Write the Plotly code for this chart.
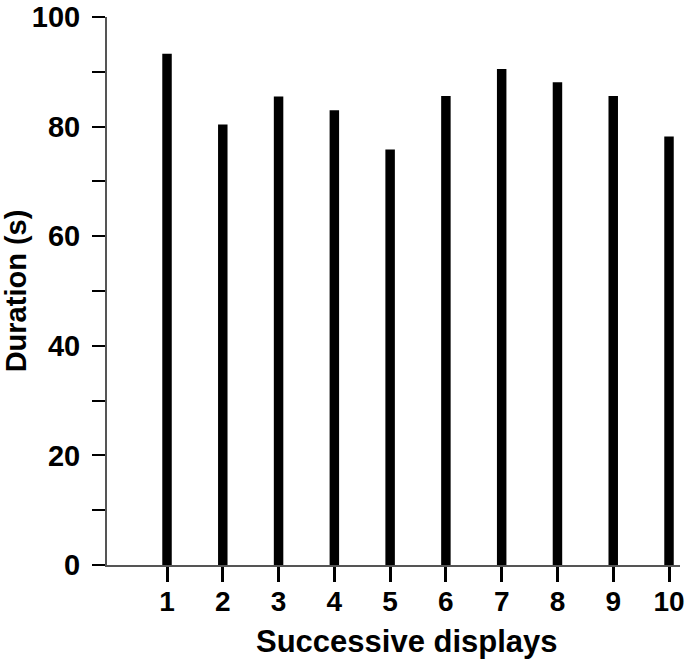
import plotly.graph_objects as go

# successive displays and their durations (s)
displays = [1, 2, 3, 4, 5, 6, 7, 8, 9, 10]
durations = [93.3, 80.4, 85.5, 83.0, 75.8, 85.6, 90.5, 88.1, 85.6, 78.2]
y_ticks = [0, 20, 40, 60, 80, 100]

bold = dict(family='Liberation Sans, Arial, sans-serif', size=29, color='black', weight='bold')
xtick_font = dict(bold, size=28)
title_font = dict(bold, size=31)

bars = go.Bar(x=displays, y=durations, width=0.17,
              marker=dict(color='black', line=dict(width=0)),
              hoverinfo='x+y', showlegend=False)

fig = go.Figure(data=[bars])

fig.update_layout(
    width=685, height=661,
    margin=dict(l=107, r=5, t=17, b=96),
    paper_bgcolor='white', plot_bgcolor='white',
    font=bold,
)

fig.update_xaxes(
    range=[-0.076, 10.197], tickvals=displays, ticktext=[str(d) for d in displays],
    automargin=False,
    showgrid=False, zeroline=False,
    showline=True, linecolor='#555555', linewidth=2,
    ticks='outside', ticklen=15, tickwidth=3, tickcolor='black',
    tickfont=xtick_font, ticklabelstandoff=-5, ticklabeloverflow='allow',
)

fig.update_yaxes(
    range=[0, 100], tickvals=y_ticks,
    automargin=False,
    showgrid=False, zeroline=False,
    showline=True, linecolor='#555555', linewidth=2,
    ticks='outside', ticklen=13, tickwidth=2, tickcolor='black',
    minor=dict(dtick=10, ticks='outside', ticklen=13, tickwidth=2, tickcolor='black'),
    tickfont=bold, ticklabelstandoff=6,
    title=dict(text='Duration (s)', font=bold, standoff=3),
)

# x title sits a little right of the axis centre in the original
fig.add_annotation(text='Successive displays', font=title_font, showarrow=False,
                   xref='paper', yref='paper', x=0.524, y=-0.1405,
                   xanchor='center', yanchor='middle')

# drop the browser's default page margin so the figure sits at 0,0
fig.write_html('out.html', config=dict(displayModeBar=False),
               post_script="document.body.style.margin='0';document.body.style.overflow='hidden';")
